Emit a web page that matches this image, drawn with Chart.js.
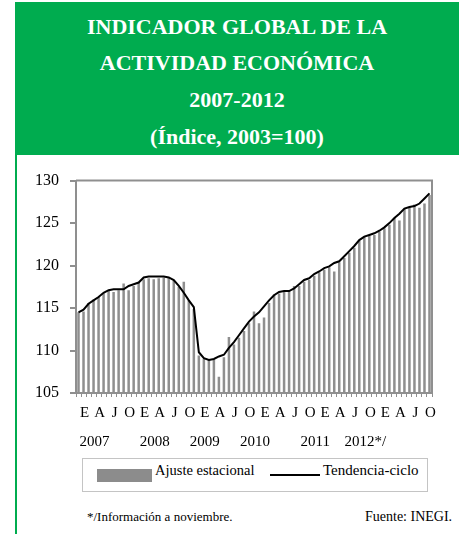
<!DOCTYPE html>
<html><head><meta charset="utf-8">
<script src="https://cdn.jsdelivr.net/npm/chart.js@4.4.0/dist/chart.umd.min.js"></script>
<style>
html,body{margin:0;padding:0;background:#fff;width:459px;height:534px;overflow:hidden;position:relative;font-family:'Liberation Serif','DejaVu Serif',serif;}
#header{position:absolute;left:15px;top:2px;width:444px;height:153px;background:#00ac4f;}
#header div{position:absolute;left:0;width:100%;text-align:center;color:#fff;font-weight:bold;font-size:22px;line-height:24px;white-space:nowrap;}
#leftbar{position:absolute;left:15px;top:155px;width:2px;height:379px;background:#00ac4f;}
#wrap{position:absolute;left:17px;top:160px;width:440px;height:295px;}
#legend{position:absolute;left:82px;top:458px;width:344px;height:32px;border:1px solid #c4c4c4;}
.lg{position:absolute;white-space:nowrap;color:#000;font-size:14.5px;line-height:16px;}
#sw1{position:absolute;left:14px;top:10px;width:55px;height:13px;background:#8c8c8c;}
#sw2{position:absolute;left:187px;top:15px;width:50px;height:2px;background:#000;}
.fn{position:absolute;top:509px;white-space:nowrap;font-size:13px;line-height:16px;color:#000;}
</style></head>
<body>
<div id="header">
  <div style="top:13px">INDICADOR GLOBAL DE LA</div>
  <div style="top:49px">ACTIVIDAD ECONÓMICA</div>
  <div style="top:86px">2007-2012</div>
  <div style="top:123px">(Índice, 2003=100)</div>
</div>
<div id="leftbar"></div>
<div id="wrap"><canvas id="c" width="440" height="295"></canvas></div>
<div id="legend">
  <div id="sw1"></div><div class="lg" style="left:72px;top:3px">Ajuste estacional</div>
  <div id="sw2"></div><div class="lg" style="left:240px;top:3px;font-size:15px">Tendencia-ciclo</div>
</div>
<div class="fn" style="left:87px">*/Información a noviembre.</div>
<div class="fn" style="left:365px;font-size:14px">Fuente: INEGI.</div>
<script>
const years = ['2007','2008','2009','2010','2011','2012'];
const monthLetters = ['E','F','M','A','M','J','J','A','S','O','N','D'];
const yearTickLabels = {2:'2007', 14:'2008', 24:'2009', 34:'2010', 46:'2011', 56:'2012*/'};
const categories = [];
years.forEach((y, yi) => monthLetters.forEach((m, mi) => {
  if (yi < 5 || mi < 11) categories.push(m + ' ' + y);
}));

const ajusteEstacional = [
  114.5,114.6,115.6,116.0,116.3,116.7,117.0,116.9,117.1,117.9,117.1,117.6,
  118.0,118.4,118.5,118.4,118.5,118.6,118.6,118.2,117.5,118.1,115.9,114.9,
  109.4,109.0,108.9,108.9,106.9,109.2,111.6,110.7,111.5,112.3,113.2,114.6,
  113.2,113.9,115.6,116.6,116.7,116.9,117.0,117.6,117.6,118.1,118.3,118.8,
  119.2,119.5,119.8,119.3,120.4,120.9,121.5,122.1,122.9,123.4,123.5,123.6,
  124.0,124.4,124.8,125.6,125.3,126.7,126.9,127.2,126.8,127.3,128.3
];
const tendenciaCiclo = [
  114.5,114.8,115.5,115.9,116.3,116.8,117.1,117.2,117.2,117.2,117.6,117.8,
  118.0,118.6,118.7,118.7,118.7,118.7,118.6,118.3,117.6,116.8,115.9,115.1,
  109.8,109.1,108.9,109.0,109.3,109.5,110.3,111.0,111.8,112.6,113.4,114.0,
  114.5,115.2,115.9,116.5,116.9,117.0,117.0,117.3,117.8,118.3,118.5,119.0,
  119.3,119.7,119.9,120.3,120.5,121.1,121.7,122.3,123.0,123.4,123.6,123.8,
  124.1,124.5,125.0,125.6,126.1,126.7,126.9,127.0,127.3,127.9,128.5
];
const yMin = 105, yMax = 130, yStep = 5;

const gray = '#8f8f8f';
const frame = {
  id: 'frame',
  beforeDatasetsDraw(chart) {
    const a = chart.chartArea, ctx = chart.ctx;
    ctx.save();
    ctx.strokeStyle = gray; ctx.lineWidth = 2;
    ctx.beginPath();
    ctx.moveTo(a.left, a.top); ctx.lineTo(a.right, a.top); ctx.lineTo(a.right, a.bottom);
    ctx.stroke();
    ctx.restore();
  }
};

new Chart(document.getElementById('c'), {
  data: {
    labels: categories,
    datasets: [
      { type: 'line', label: 'Tendencia-ciclo', data: tendenciaCiclo, borderColor: '#000', borderWidth: 2,
        pointRadius: 0, tension: 0, fill: false, order: 0 },
      { type: 'bar', label: 'Ajuste estacional', data: ajusteEstacional, backgroundColor: gray,
        barPercentage: 0.5, categoryPercentage: 1, order: 1 }
    ]
  },
  options: {
    responsive: false, animation: false,
    layout: { padding: { top: 19, right: 25, left: 0, bottom: 0 } },
    plugins: { legend: { display: false }, tooltip: { enabled: false } },
    scales: {
      x: {
        offset: true,
        grid: { drawOnChartArea: false, drawTicks: true, tickLength: 4, color: gray, lineWidth: 1 },
        border: { display: true, color: gray, width: 2 },
        ticks: {
          autoSkip: false, maxRotation: 0, minRotation: 0, padding: 2, labelOffset: 6,
          color: '#000', font: { family: "'Liberation Serif', serif", size: 15, lineHeight: 1.9 },
          callback: (v, i) => [i % 3 === 0 ? categories[i].split(' ')[0] : '', yearTickLabels[i] || '']
        },
        afterFit: s => { s.height = 62; }
      },
      y: {
        min: yMin, max: yMax,
        grid: { drawOnChartArea: false, drawTicks: true, tickLength: 6, color: gray, lineWidth: 2 },
        border: { display: true, color: gray, width: 2 },
        ticks: { stepSize: yStep, padding: 11, color: '#000', font: { family: "'Liberation Serif', serif", size: 16 } },
        afterFit: s => { s.width = 59; }
      }
    }
  },
  plugins: [frame]
});
</script>
</body></html>
